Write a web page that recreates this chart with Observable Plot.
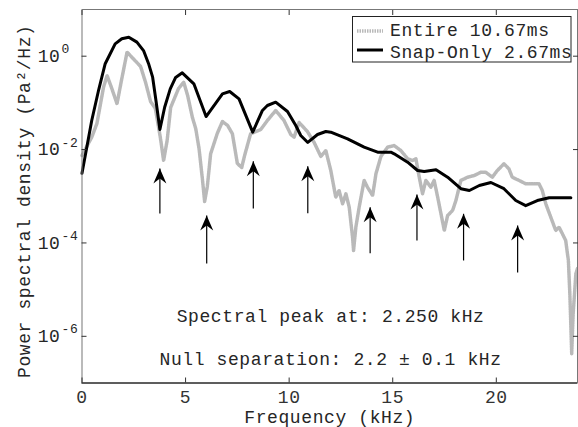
<!DOCTYPE html>
<html><head><meta charset="utf-8">
<script src="https://cdn.jsdelivr.net/npm/d3@7"></script>
<script src="https://cdn.jsdelivr.net/npm/@observablehq/plot@0.6"></script>
<style>
html,body{margin:0;padding:0;background:#fff;}
#wrap{position:relative;width:578px;height:427px;overflow:hidden;}
#legend{position:absolute;left:0;top:0;pointer-events:none;}
</style></head><body><div id="wrap"></div>
<script>
// ---- data ----
const entireFreq = [0,0.47,0.72,1.04,1.21,1.44,1.69,1.885,2.175,2.42,
 2.83,3.07,3.31,3.54,3.78,3.94,4.11,4.28,4.66,4.91,
 5.10,5.33,5.49,5.65,5.81,5.92,6.05,6.21,6.53,6.78,
 7.03,7.26,7.50,7.71,7.85,8.14,8.63,8.95,9.35,9.75,
 10.08,10.24,10.48,10.88,11.20,11.53,11.77,12.01,12.25,12.41,
 12.58,12.74,12.90,13.06,13.11,13.22,13.38,13.62,13.78,14.03,
 14.19,14.43,14.75,15.07,15.39,15.72,15.96,16.12,16.28,16.44,
 16.60,16.84,17.00,17.17,17.33,17.49,17.65,17.89,18.05,18.29,
 18.62,18.94,19.26,19.49,19.81,20.05,20.37,20.61,20.77,21.10,
 21.42,22.06,22.22,22.39,22.63,22.87,23.03,23.19,23.35,23.48,
 23.55,23.60,23.64,23.71,23.84,23.92];
const entirePsd = [7.46e-3,1.84e-2,3.61e-2,0.217,0.385,0.203,0.0955,0.273,1.22,0.937,
 0.601,0.273,0.107,0.0759,0.0184,5.83e-3,0.0156,0.0796,0.203,0.277,
 0.144,0.0486,0.0282,0.01054,2.40e-3,7.73e-4,1.62e-3,8.11e-3,0.0221,0.0399,
 0.0328,0.0218,5.03e-3,4.13e-3,7.46e-3,0.0218,0.0269,0.042,0.0687,0.042,
 0.0210,0.0184,0.038,0.0244,0.0144,7.11e-3,9.55e-3,3.56e-3,9.55e-4,1.33e-3,
 6.89e-4,1.13e-3,5.83e-4,1.33e-4,6.89e-5,2.17e-4,5.83e-4,2.18e-3,1.56e-3,1.04e-3,
 3.03e-3,7.11e-3,0.01125,0.0122,9.55e-3,6.34e-3,5.83e-3,6.34e-3,2.56e-3,1.13e-3,
 2.18e-3,1.56e-3,2.18e-3,9.55e-4,4.21e-4,1.85e-4,3.87e-4,4.95e-4,8.11e-4,2.18e-3,
 2.56e-3,2.79e-3,3.27e-3,3.27e-3,2.56e-3,3.56e-3,4.95e-3,3.87e-3,2.56e-3,2.18e-3,
 1.85e-3,1.85e-3,1.33e-3,6.89e-4,3.56e-4,1.85e-4,2.17e-4,1.57e-4,1.13e-4,4.21e-5,
 8.15e-6,1.57e-6,4.23e-7,3.04e-6,2.18e-5,2.84e-5];

const snapFreq = [0,0.47,0.80,1.12,1.60,1.92,2.26,2.65,2.97,3.21,
 3.41,3.57,3.76,3.99,4.26,4.52,4.84,5.40,5.99,6.78,
 7.13,7.58,8.24,8.71,8.95,9.35,9.92,10.32,10.56,10.90,
 11.37,11.77,12.01,12.82,13.62,14.27,14.91,15.07,15.72,16.20,
 16.52,17.09,17.65,18.29,18.70,19.18,19.74,20.37,20.94,21.42,
 21.98,22.55,23.60];
const snapPsd = [3.1e-3,0.042,0.186,0.69,1.84,2.36,2.55,2.0,1.32,0.70,
 0.355,0.112,0.0269,0.0807,0.200,0.35,0.44,0.256,0.051,0.156,
 0.175,0.122,0.0236,0.0687,0.0879,0.1035,0.0653,0.0328,0.020,0.0142,
 0.0210,0.0244,0.0236,0.0170,0.01125,0.00879,0.00879,0.00811,0.00537,0.00356,
 0.00339,0.00369,0.00256,0.00145,0.00133,0.0017,0.00197,0.00145,0.00081,0.00063,
 0.00081,0.00093,0.00093];

const arrowFreq = [3.76,6.02,8.27,10.90,13.91,16.17,18.42,21.03];
const arrowTip  = [3.94e-3,3.87e-4,5.64e-3,4.41e-3,5.83e-4,1.09e-3,4.21e-4,2.37e-4];
const arrowTail = [4.28e-4,3.63e-5,5.47e-4,4.34e-4,6.03e-5,1.13e-4,4.21e-5,2.33e-5];

const xTicks = [0,5,10,15,20];
const yTicks = [1,1e-2,1e-4,1e-6];
const yTickExp = ["0","-2","-4","-6"];
const xDomain = [0,23.92];
const yDomain = [1e-7,10];
const xLabel = "Frequency (kHz)";
const yLabel = "Power spectral density (Pa\u00b2/Hz)";
const noteText = ["Spectral peak at: 2.250 kHz","Null separation: 2.2 \u00b1 0.1 kHz"];
const noteFreq = [12,12];
const notePsd = [2.7e-6,3.3e-7];
const seriesNames = ["Entire 10.67ms","Snap-Only 2.67ms"];

// ---- tables ----
const entire = entireFreq.map((f,i)=>({f, p: entirePsd[i]}));
const snap = snapFreq.map((f,i)=>({f, p: snapPsd[i]}));
const arrows = arrowFreq.map((f,i)=>({f, tip: arrowTip[i], tail: arrowTail[i]}));
const notes = noteText.map((t,i)=>({t, f: noteFreq[i], p: notePsd[i]}));

const textColor = "#262626";
const grayStroke = "#b9b9b9";
const grayDash = "1.5 1";

const arrowHead = {draw(ctx){ctx.moveTo(0,0);ctx.lineTo(6.5,15);ctx.lineTo(0,10);ctx.lineTo(-6.5,15);ctx.closePath();}};

const plot = Plot.plot({
  width: 578, height: 427,
  marginLeft: 81.5, marginRight: 1, marginTop: 9, marginBottom: 44.5,
  style: "font-family:'Liberation Mono',monospace;font-size:18px;letter-spacing:0.6px;background:white;color:#262626;overflow:visible;",
  x: {domain: xDomain, label: null},
  y: {type: "log", domain: yDomain, label: null},
  marks: [
    Plot.line(entire, {x: "f", y: "p", stroke: grayStroke, strokeWidth: 3.5, strokeDasharray: grayDash, strokeLinejoin: "round"}),
    Plot.line(snap, {x: "f", y: "p", stroke: "black", strokeWidth: 3, strokeLinejoin: "round"}),
    Plot.link(arrows, {x1: "f", x2: "f", y1: "tail", y2: "tip", stroke: "black", strokeWidth: 1.2}),
    Plot.dot(arrows, {x: "f", y: "tip", symbol: arrowHead, fill: "black", stroke: "none", r: 5}),
    Plot.text(notes, {x: "f", y: "p", text: "t", fill: textColor, fontSize: 18}),
    Plot.frame({stroke: "#777"}),
    Plot.ruleY([yDomain[0]], {stroke: "black", strokeWidth: 1}),
    Plot.axisX(xTicks, {anchor: "bottom", tickSize: -5, tickPadding: 12, label: null, tickFormat: d => String(d), fontSize: 18, color: "#333"}),
    Plot.axisX(xTicks, {anchor: "top", tickSize: -5, label: null, tickFormat: () => "", color: "#333"}),
    Plot.axisY(yTicks, {anchor: "left", tickSize: -5, label: null, tickFormat: () => "", color: "#333"}),
    Plot.axisY(yTicks, {anchor: "right", tickSize: -5, label: null, tickFormat: () => "", color: "#333"}),
    Plot.text(yTicks, {y: d => d, frameAnchor: "left", text: () => "10", textAnchor: "end", dx: -21.5, fill: textColor, fontSize: 18}),
    Plot.text(yTicks, {y: d => d, frameAnchor: "left", text: (d,i) => yTickExp[i], textAnchor: "start", dx: -20.5, dy: -7, fill: textColor, fontSize: 13}),
    Plot.text([yLabel], {frameAnchor: "left", text: d => d, textAnchor: "middle", lineAnchor: "middle", rotate: -90, dx: -58, dy: 5, fill: textColor, fontSize: 18}),
    Plot.text([xLabel], {frameAnchor: "bottom", text: d => d, textAnchor: "middle", lineAnchor: "middle", dy: 34, fill: textColor, fontSize: 18})
  ]
});

const wrap = document.getElementById("wrap");
wrap.appendChild(plot);

// ---- legend (inside the axes, top right) ----
const ns = "http://www.w3.org/2000/svg";
const lg = document.createElementNS(ns, "svg");
lg.setAttribute("id", "legend");
lg.setAttribute("width", 578);
lg.setAttribute("height", 427);
lg.style.fontFamily = "'Liberation Mono',monospace";
lg.style.fontSize = "18px";
lg.style.letterSpacing = "0.6px";
function el(tag, attrs, text){const e=document.createElementNS(ns,tag);for(const k in attrs)e.setAttribute(k,attrs[k]);if(text)e.textContent=text;lg.appendChild(e);return e;}
el("rect",{x:352.5,y:16.5,width:218.5,height:45.5,fill:"white",stroke:"#222","stroke-width":1});
el("line",{x1:357,x2:383,y1:31,y2:31,stroke:grayStroke,"stroke-width":3.5,"stroke-dasharray":grayDash});
el("line",{x1:357,x2:383,y1:50,y2:50,stroke:"black","stroke-width":3});
el("text",{x:390,y:36.3,fill:textColor},seriesNames[0]);
el("text",{x:390,y:58,fill:textColor},seriesNames[1]);
wrap.appendChild(lg);
</script></body></html>
